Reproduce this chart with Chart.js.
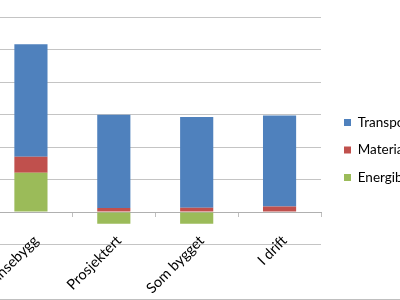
<!DOCTYPE html>
<html>
<head>
<meta charset="utf-8">
<script src="https://cdn.jsdelivr.net/npm/chart.js@4/dist/chart.umd.min.js"></script>
<style>
  html, body { margin: 0; padding: 0; background: #fff; }
  #wrap { position: relative; width: 400px; height: 300px; overflow: hidden; }
  #chart { position: absolute; left: -20px; top: 0; }
</style>
</head>
<body>
<div id="wrap"><canvas id="chart" width="420" height="300"></canvas></div>
<script>
const categories = ['Referansebygg', 'Prosjektert', 'Som bygget', 'I drift'];
const energibruk = [1.21, -0.36, -0.36, 0];
const materialer = [0.49, 0.12, 0.13, 0.17];
const transport = [3.46, 2.87, 2.79, 2.80];
const yMin = -1, yMax = 6, yStep = 1;

const font = { family: 'Lato, "Open Sans", sans-serif', size: 13.5 };
const tickFont = { family: 'Lato, "Open Sans", sans-serif', size: 14.5 };

const bottomLine = {
	id: 'bottomLine',
	afterDraw(chart){
		const ctx = chart.ctx;
		ctx.save();
		ctx.strokeStyle = '#bfbfbf';
		ctx.lineWidth = 1;
		ctx.beginPath();
		ctx.moveTo(0, 299.5);
		ctx.lineTo(chart.width, 299.5);
		ctx.stroke();
		ctx.restore();
	}
};

new Chart(document.getElementById('chart'), {
	type: 'bar',
	data: {
		labels: categories,
		datasets: [
			{ label: 'Energibruk', data: energibruk, backgroundColor: '#9bbb59' },
			{ label: 'Materialer', data: materialer, backgroundColor: '#c0504d' },
			{ label: 'Transport', data: transport, backgroundColor: '#4f81bd' }
		]
	},
	options: {
		responsive: false,
		animation: false,
		layout: { padding: { left: 9.5, top: 17, bottom: 17, right: 0 } },
		datasets: { bar: { categoryPercentage: 1, barPercentage: 0.4 } },
		plugins: {
			legend: {
				position: 'right',
				reverse: true,
				maxWidth: 70,
				labels: { boxWidth: 7, boxHeight: 7, padding: 14, color: '#000', font }
			},
			tooltip: { enabled: false }
		},
		scales: {
			x: {
				stacked: true,
				position: { y: 0 },
				z: 1,
				afterFit: s => { s.height = 0; s.paddingLeft = 0; s.paddingRight = 0; },
				grid: { offset: true, drawOnChartArea: false, drawTicks: true, tickLength: 4, color: '#bfbfbf' },
				border: { display: true, color: '#b0b0b0' },
				ticks: { minRotation: 45, maxRotation: 45, color: '#000', font: tickFont, padding: 16, labelOffset: 5, autoSkip: false }
			},
			xSpace: {
				type: 'category',
				position: 'bottom',
				afterFit: s => { s.height = 38.5; },
				ticks: { display: false },
				grid: { display: false, drawTicks: false },
				border: { display: false }
			},
			y: {
				stacked: true,
				min: yMin, max: yMax,
				afterFit: s => { s.width = 0; },
				ticks: { display: false, stepSize: yStep },
				grid: { color: '#c4c4c4', drawTicks: false },
				border: { display: false }
			},
			y2: {
				position: 'right',
				min: yMin, max: yMax,
				afterFit: s => { s.width = 9; },
				ticks: { display: false },
				grid: { display: false, drawTicks: false },
				border: { display: false }
			}
		}
	},
	plugins: [bottomLine]
});
</script>
</body>
</html>
